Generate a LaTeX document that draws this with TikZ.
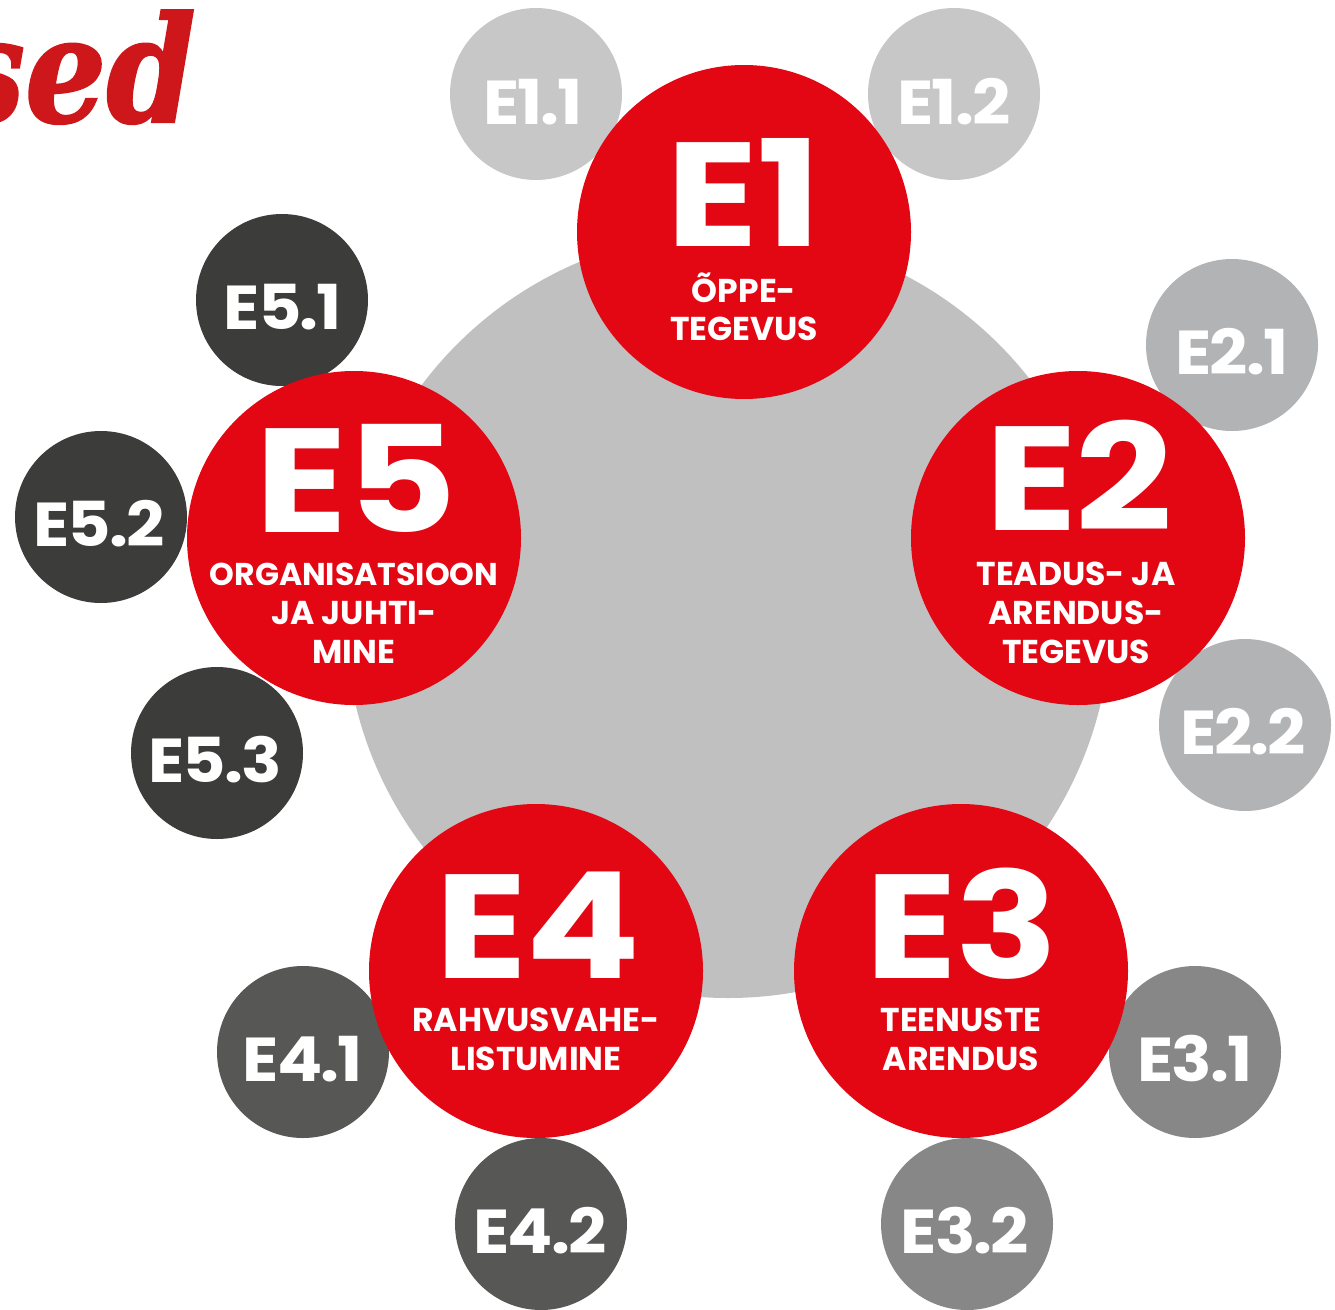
\documentclass[tikz,border=0pt]{standalone}
\usepackage{fontspec}
\setmainfont{Poppins}
\newfontfamily\sedfont{DejaVu Serif}
\definecolor{ered}{HTML}{E30613}
\definecolor{sedred}{HTML}{CD171A}
\definecolor{biggray}{HTML}{C0C0C0}
\definecolor{gA}{HTML}{C6C7C6}
\definecolor{gB}{HTML}{B2B3B4}
\definecolor{gC}{HTML}{878787}
\definecolor{gD}{HTML}{575756}
\definecolor{gE}{HTML}{3C3C3B}
\begin{document}
\begin{tikzpicture}[x=1pt,y=-1pt,
  redc/.style={circle,fill=ered,minimum size=334pt,inner sep=0pt},
  subc/.style={circle,minimum size=172pt,inner sep=0pt},
  bigt/.style={text=white,font=\fontsize{148}{148}\selectfont\bfseries\addfontfeature{FakeStretch=1.15,LetterSpace=-1},anchor=base,inner sep=0pt},
  subt/.style={text=white,font=\fontsize{33}{39}\selectfont\bfseries,anchor=base,inner sep=0pt},
  smlt/.style={text=white,font=\fontsize{62}{62}\selectfont\bfseries\addfontfeature{FakeStretch=1.08,LetterSpace=-3},anchor=base,inner sep=0pt}]
\useasboundingbox (0,0) rectangle (1335,1309);
% title fragment
\node[anchor=base east,inner sep=0pt,text=sedred,font=\sedfont\fontsize{147}{147}\selectfont\bfseries\itshape\addfontfeature{FakeBold=1.5}] (sed) at (196,122) {\scalebox{0.87}[1]{sed}};
% big gray circle
\node[circle,fill=biggray,minimum size=766pt,inner sep=0pt] (hub) at (728,615) {};
% small circles
\node[subc,fill=gA] (e11) at (536,94) {};
\node[subc,fill=gA] (e12) at (954,94) {};
\node[subc,fill=gB] (e21) at (1232,345) {};
\node[subc,fill=gB] (e22) at (1245,725) {};
\node[subc,fill=gC] (e31) at (1195,1052) {};
\node[subc,fill=gC] (e32) at (967,1224) {};
\node[subc,fill=gD] (e41) at (303,1052) {};
\node[subc,fill=gD] (e42) at (541,1224) {};
\node[subc,fill=gE] (e51) at (282,300) {};
\node[subc,fill=gE] (e52) at (101,517) {};
\node[subc,fill=gE] (e53) at (217,753) {};
\node[smlt] (t11) at (533,124) {E1.1};
\node[smlt] (t12) at (954,124) {E1.2};
\node[smlt] (t21) at (1232,374) {E2.1};
\node[smlt] (t22) at (1243,754) {E2.2};
\node[smlt] (t31) at (1195,1081) {E3.1};
\node[smlt] (t32) at (965,1253) {E3.2};
\node[smlt] (t41) at (303,1081) {E4.1};
\node[smlt] (t42) at (540,1253) {E4.2};
\node[smlt] (t51) at (283,329) {E5.1};
\node[smlt] (t52) at (99,546) {E5.2};
\node[smlt] (t53) at (215,782) {E5.3};
% red circles
\node[redc] (e1) at (744,232) {};
\node[redc] (e2) at (1078,538) {};
\node[redc] (e3) at (961,971) {};
\node[redc] (e4) at (536,971) {};
\node[redc] (e5) at (354,538) {};
% E1
\node[bigt] (e1big) at (744,246) {E1};
\node[subt] (e1a) at (744,302) {ÕPPE-};
\node[subt] (e1b) at (744,340) {TEGEVUS};
% E2
\node[bigt] (e2big) at (1079,530) {E2};
\node[subt] (e2a) at (1076,585) {TEADUS- JA};
\node[subt] (e2b) at (1076,624) {ARENDUS-};
\node[subt] (e2c) at (1076,663) {TEGEVUS};
% E3
\node[bigt] (e3big) at (962,978) {E3};
\node[subt] (e3a) at (961,1031) {TEENUSTE};
\node[subt] (e3b) at (961,1070) {ARENDUS};
% E4
\node[bigt] (e4big) at (538,978) {E4};
\node[subt] (e4a) at (536,1031) {RAHVUSVAHE-};
\node[subt] (e4b) at (536,1070) {LISTUMINE};
% E5
\node[bigt] (e5big) at (356,532) {E5};
\node[subt,font=\fontsize{31.5}{39}\selectfont\bfseries] (e5a) at (354,585) {ORGANISATSIOON};
\node[subt] (e5b) at (354,624) {JA JUHTI-};
\node[subt] (e5c) at (354,663) {MINE};
\end{tikzpicture}
\end{document}
